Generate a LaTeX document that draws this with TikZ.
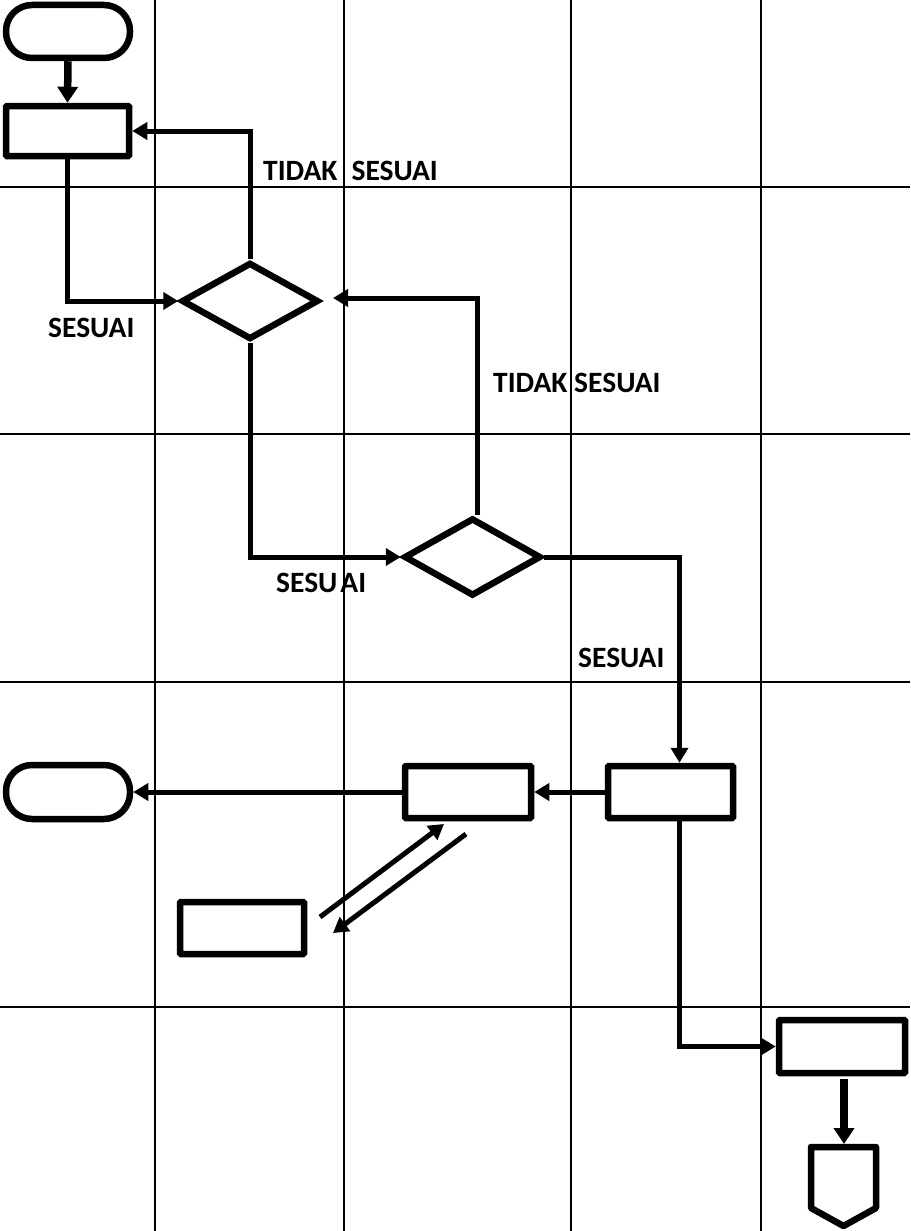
\documentclass[tikz,border=0pt]{standalone}
\usepackage{fontspec}
\setmainfont{Carlito}
\usetikzlibrary{arrows.meta,shapes.geometric,calc}
\begin{document}
\begin{tikzpicture}[x=1pt,y=-1pt,
  gridline/.style={line width=2.4pt},
  box/.style={draw,line width=6.5pt,minimum width=125pt,minimum height=52pt,inner sep=0pt,rounded corners=1pt},
  term/.style={box,rounded corners=26pt},
  dec/.style={draw,diamond,line width=6.5pt,inner sep=0pt},
  conn/.style={line width=5pt,-{Triangle[length=15pt,width=17pt]}},
  bigconn/.style={line width=7.5pt,-{Triangle[length=16pt,width=20pt]}},
  lbl/.style={font=\bfseries\fontsize{29.5}{32}\selectfont,inner sep=0pt}
]
\useasboundingbox (0,0) rectangle (910,1231);
% grid
\foreach \gx in {155,344,571,761} \draw[gridline] (\gx,0) -- (\gx,1231);
\foreach \gy in {187,434,682,1007} \draw[gridline] (0,\gy) -- (910,\gy);

% shapes
\node[term,minimum width=124pt,minimum height=53pt] (t1) at (68,31.5) {};
\node[box,minimum width=123pt,minimum height=50pt] (r1) at (67.5,131) {};
\node[dec,minimum width=137pt,minimum height=77pt] (d1) at (250,301) {};
\node[dec,minimum width=137pt,minimum height=78pt] (d2) at (472.5,557) {};
\node[term,minimum width=124pt,minimum height=54pt] (t2) at (68,792) {};
\node[box,minimum width=126pt] (r2) at (468,792) {};
\node[box] (r3) at (670.5,792) {};
\node[box,minimum width=124pt] (r4) at (242,928) {};
\node[box,minimum width=126pt,minimum height=53pt] (r5) at (842,1046.5) {};
% off-page connector
\draw[line width=6.5pt,line join=round] (811,1147) -- (876,1147) -- (876,1208) -- (843.5,1226) -- (811,1208) -- cycle;
\coordinate (off) at (844,1144);

% connectors
\draw[bigconn] (t1.south) -- (r1.north);
\draw[conn] (r1.south) |- (d1.west);
\draw[conn] (d1.north) |- (r1.east);
\draw[conn] (d1.south) |- (d2.west);
\coordinate (d1r) at (333,298);
\draw[conn] ([xshift=5pt]d2.north) |- (d1r);
\draw[conn] (d2.east) -| ([xshift=9pt]r3.north);
\draw[conn] (r3.west) -- (r2.east);
\draw[conn] (r2.west) -- (t2.east);
\draw[conn] ([xshift=9pt]r3.south) |- (r5.west);
\draw[bigconn,shorten <=3pt] (off |- r5.south) -- (off);
\coordinate (a1s) at (320,917);
\coordinate (a1e) at (444,824);
\coordinate (a2s) at (466,834);
\coordinate (a2e) at (333,933);
\draw[conn] (a1s) -- (a1e);
\draw[conn] (a2s) -- (a2e);

% labels
\node[lbl,anchor=base west] (l1) at (263,180) {TIDAK\hspace{14pt}SESUAI};
\node[lbl,anchor=base west] (l2) at (48,337) {SESUAI};
\node[lbl,anchor=base west] (l3) at (493,392) {TIDAK SESUAI};
\node[lbl,anchor=base west] (l4) at (276,592) {SESU\kern3pt AI};
\node[lbl,anchor=base west] (l5) at (578,667) {SESUAI};
\end{tikzpicture}
\end{document}
